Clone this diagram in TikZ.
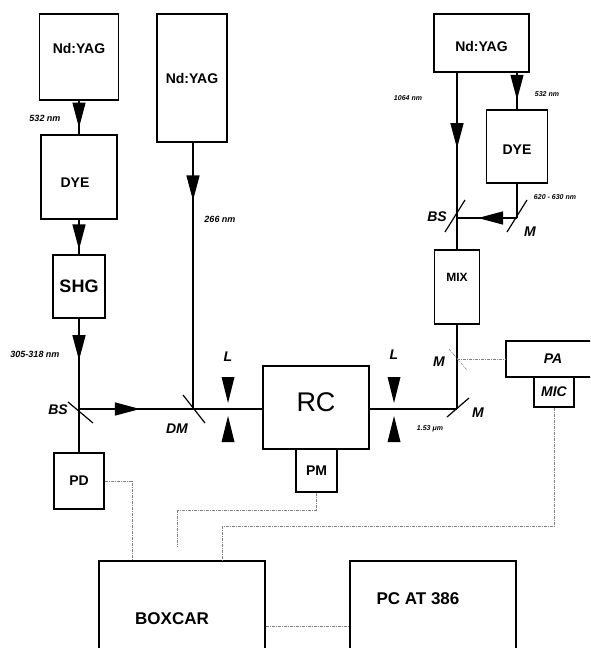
\documentclass[tikz,border=0pt]{standalone}
\usepackage{fontspec}
\setmainfont{Liberation Sans}
\usetikzlibrary{arrows.meta,decorations.markings,calc}
\tikzset{
    box/.style={draw, line width=1.3pt, inner sep=0pt, font=\bfseries\fontsize{14}{16}\selectfont},
    boxlab/.style={inner sep=0pt, font=\bfseries\fontsize{14}{16}\selectfont},
    tag/.style={font=\bfseries\itshape\fontsize{14}{16}\selectfont},
    wave/.style={font=\bfseries\itshape\fontsize{9}{10}\selectfont},
    wave small/.style={font=\bfseries\itshape\fontsize{7}{8}\selectfont},
    ray/.style={line width=1.2pt},
    beam/.style={ray, postaction={decorate},
        decoration={markings, mark=at position #1 with {\arrow{Triangle[length=25pt,width=13pt]}}}},
    sig/.style={gray, line width=0.5pt, dash pattern=on 3pt off 1pt on 1pt off 1pt}
}
\begin{document}
\begin{tikzpicture}[x=1pt,y=-1pt]
    \useasboundingbox (0,0) rectangle (590,648);
    \clip (0,0) rectangle (590,648);

    % lasers and boxes
    \node[box, minimum width=79pt, minimum height=86pt, label={[boxlab,yshift=9pt]center:{Nd:YAG}}] (yagA) at (79,57) {};
    \node[box, minimum width=76pt, minimum height=84pt, label={[boxlab,xshift=-4pt,yshift=-6pt]center:DYE}] (dyeA) at (79,177) {};
    \node[box, minimum width=52pt, minimum height=63pt, font=\bfseries\fontsize{18}{20}\selectfont] (shg) at (79,286.5) {SHG};
    \node[box, minimum width=70pt, minimum height=128pt] (yagB) at (192,78) {Nd:YAG};
    \node[box, minimum width=95pt, minimum height=58pt, label={[boxlab,yshift=-3pt]center:{Nd:YAG}}] (yagC) at (481.5,43) {};
    \node[box, minimum width=61pt, minimum height=73pt, label={[boxlab,yshift=-3pt]center:DYE}] (dyeC) at (517,146.5) {};
    \node[box, minimum width=45pt, minimum height=74pt, label={[boxlab,font=\bfseries\fontsize{12}{14}\selectfont,yshift=10pt]center:MIX}] (mix) at (457,287) {};
    \node[box, minimum width=106pt, minimum height=83pt, label={[boxlab,font=\fontsize{27}{30}\selectfont,yshift=5pt]center:RC}] (rc) at (316,407.5) {};
    \node[box, minimum width=41pt, minimum height=43pt] (pm) at (316.5,470.5) {PM};
    \node[box, minimum width=50pt, minimum height=56pt] (pd) at (79,481) {PD};
    \node[box, minimum width=94pt, minimum height=36pt, font=\bfseries\itshape\fontsize{14}{16}\selectfont] (pa) at (553,359) {PA};
    \node[box, minimum width=40pt, minimum height=30pt, font=\bfseries\itshape\fontsize{14}{16}\selectfont] (mic) at (554,392) {MIC};
    \node[box, minimum width=166pt, minimum height=116pt, label={[boxlab,font=\bfseries\fontsize{17}{20}\selectfont,xshift=-10pt]center:BOXCAR}] (boxcar) at (182,619) {};
    \node[box, minimum width=166pt, minimum height=116pt, label={[boxlab,font=\bfseries\fontsize{17}{20}\selectfont,xshift=-15pt,yshift=20pt]center:{PC AT 386}}] (pc) at (433,619) {};

    % mirrors
    \coordinate (bsA) at (79,409);
    \coordinate (dm) at (193,409);
    \coordinate (mA) at (457,409);
    \coordinate (mB) at (457,359);
    \coordinate (bsB) at (457,218);
    \coordinate (mC) at (517,218);

    % beams
    \draw[beam=0.8] (yagA) -- (dyeA);
    \draw[beam=0.86] (dyeA) -- (shg);
    \draw[beam=0.46] (shg) -- (bsA);
    \draw[ray] (bsA) -- (pd);
    \draw[beam=0.535] (bsA) -- (dm);
    \draw[beam=0.217] (yagB.south -| dm) -- (dm);
    \draw[ray] (dm) -- (dm -| rc.west);
    \draw[ray] (rc.east |- mA) -- (mA);
    \draw[ray] (mix) -- (mA);
    \draw[ray] (bsB) -- (mix);
    \draw[beam=0.52] (yagC.south -| bsB) -- (bsB);
    \draw[beam=0.74] (yagC.south -| mC) -- (dyeC);
    \draw[ray] (dyeC) -- (mC);
    \draw[beam=0.65] (mC) -- (bsB);

    \draw[ray] (bsA) ++(-11,-7) -- ++(25,21);
    \draw[ray] (dm) ++(-10,-14) -- ++(22,28);
    \draw[ray] (mA) ++(-10,8) -- ++(22,-19);
    \draw[ray] (bsB) ++(-12,14) -- ++(20,-32);
    \draw[ray] (mC) ++(-10,14) -- ++(20,-32);
    \draw[sig] (mB) ++(-8,-10) -- ++(18,21);

    % lenses
    \foreach \lx in {228,394}{
        \fill (\lx-6.5,377) -- (\lx+6.5,377) -- (\lx,403) -- cycle;
        \fill (\lx-6.5,442) -- (\lx+6.5,442) -- (\lx,416) -- cycle;
    }

    % labels
    \node[wave] (w532a) at (45,118) {532 nm};
    \node[wave] (w305) at (35,354) {305-318 nm};
    \node[wave] (w266) at (220,219) {266 nm};
    \node[wave small] (w1064) at (408,98) {1064 nm};
    \node[wave small] (w532b) at (547,94) {532 nm};
    \node[wave small] (w620) at (555,197) {620 - 630 nm};
    \node[wave small] (w153) at (430,429) {1.53 μm};
    \node[tag] (tbsA) at (58,410) {BS};
    \node[tag] (tdm) at (177,429) {DM};
    \node[tag] (tlA) at (228,357) {L};
    \node[tag] (tlB) at (394,355) {L};
    \node[tag] (tmA) at (478,413) {M};
    \node[tag] (tmB) at (439,362) {M};
    \node[tag] (tbsB) at (437,217) {BS};
    \node[tag] (tmC) at (530,232) {M};

    % signal cables
    \coordinate (link) at ([yshift=-7pt]boxcar.east);
    \draw[sig] (mB) -- (pa);
    \draw[sig] (pd.east) -| ([xshift=34pt]boxcar.north west);
    \draw[sig] (pm.south) -- ++(0,18) -| ([xshift=79pt,yshift=14pt]boxcar.north west);
    \draw[sig] (mic.south) -- ++(0,119) -| ([xshift=124pt]boxcar.north west);
    \draw[sig] (link) -- (link -| pc.west);
\end{tikzpicture}
\end{document}
